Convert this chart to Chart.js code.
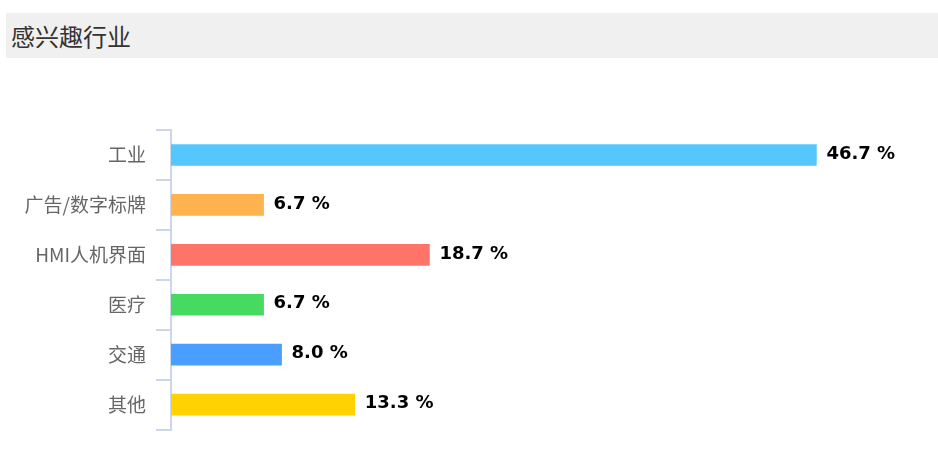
<!DOCTYPE html>
<html>
<head>
<meta charset="utf-8">
<script src="https://cdn.jsdelivr.net/npm/chart.js@4"></script>
<style>
  html, body { margin: 0; padding: 0; background: #fff; }
  body { width: 938px; height: 451px; position: relative; overflow: hidden; }
  #title {
    position: absolute; left: 6px; top: 13px; width: 932px; height: 45px;
    background: #f0f0f0; font-family: "Noto Sans CJK SC", sans-serif;
    font-size: 24px; color: #333; line-height: 45px; padding-left: 5px; box-sizing: border-box;
  }
  #wrap { position: absolute; left: 0; top: 0; width: 938px; height: 451px; }
</style>
</head>
<body>
<div id="title">感兴趣行业</div>
<div id="wrap"><canvas id="chart"></canvas></div>
<script>
const categories = ['工业', '广告/数字标牌', 'HMI人机界面', '医疗', '交通', '其他'];
const shares = [46.7, 6.7, 18.7, 6.7, 8.0, 13.3];
const barColors = ['#56c7fd', '#ffb34e', '#ff7469', '#46da60', '#4a9eff', '#ffd200'];

// values printed after each bar end
const valueLabels = {
  id: 'valueLabels',
  afterDatasetsDraw(chart) {
    const { ctx } = chart;
    const meta = chart.getDatasetMeta(0);
    ctx.save();
    ctx.font = 'bold 18px "DejaVu Sans", sans-serif';
    ctx.fillStyle = '#000';
    ctx.textBaseline = 'middle';
    ctx.textAlign = 'left';
    meta.data.forEach((bar, i) => {
      ctx.fillText(shares[i].toFixed(1) + ' %', bar.x + 10, bar.y - 1);
    });
    ctx.restore();
  }
};

new Chart(document.getElementById('chart'), {
  type: 'bar',
  data: {
    labels: categories,
    datasets: [{ data: shares, backgroundColor: barColors, barThickness: 21, borderWidth: 0 }]
  },
  options: {
    indexAxis: 'y',
    responsive: true,
    maintainAspectRatio: false,
    animation: false,
    layout: { padding: { top: 130, bottom: 20, left: 0, right: 76 } },
    plugins: { legend: { display: false }, tooltip: { enabled: false } },
    scales: {
      x: { display: false, min: 0, max: 50 },
      y: {
        afterFit: s => { s.width = 171; },
        border: { color: '#ccd6eb', width: 2 },
        grid: { offset: true, drawOnChartArea: false, tickLength: 15, color: '#ccd6eb', lineWidth: 2 },
        ticks: { color: '#666', padding: 10, font: { size: 19, family: '"Noto Sans CJK SC", sans-serif' } }
      }
    }
  },
  plugins: [valueLabels]
});
</script>
</body>
</html>
